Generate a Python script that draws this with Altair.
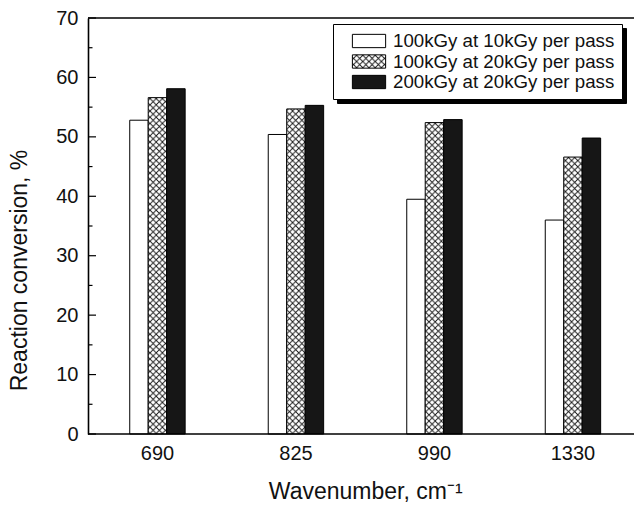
import altair as alt
import pandas as pd
import jinja2

# Wavenumber bands and the three irradiation conditions
wavenumbers = ["690", "825", "990", "1330"]
series = [
    "100kGy at 10kGy per pass",
    "100kGy at 20kGy per pass",
    "200kGy at 20kGy per pass",
]

# Reaction conversion (%) per band for each condition
dose100_rate10 = [52.8, 50.4, 39.5, 36.0]
dose100_rate20 = [56.6, 54.7, 52.4, 46.6]
dose200_rate20 = [58.1, 55.3, 52.9, 49.8]

# y-axis tick positions (labelled majors, unlabelled minors)
y_major = [0, 10, 20, 30, 40, 50, 60, 70]
y_minor = [5, 15, 25, 35, 45, 55, 65]

rows = []
for name, vals in zip(series, [dose100_rate10, dose100_rate20, dose200_rate20]):
    for wn, v in zip(wavenumbers, vals):
        rows.append({"wavenumber": wn, "series": name, "conversion": v})
df = pd.DataFrame(rows)

FONT = "Liberation Sans"
INK = "#111111"
FRAME_W = 1.6

y_axis = alt.Axis(
    values=y_major,
    ticks=False,
    domain=True,
    domainColor="black",
    domainWidth=FRAME_W,
    grid=False,
    labelFontSize=20,
    labelPadding=10,
    title="Reaction conversion, %",
    titleFontSize=23,
    titleFontWeight="normal",
    titleX=-57,
    titleY=252,
)
y_scale = alt.Scale(domain=[0, 70], nice=False, zero=True)

bars = alt.Chart(df).mark_bar(stroke="black", strokeWidth=1).encode(
    x=alt.X(
        "wavenumber:N",
        sort=wavenumbers,
        scale=alt.Scale(range=[0, 554.4], paddingInner=0.6, paddingOuter=0.3014),
        axis=alt.Axis(
            title="Wavenumber, cm\u207b\u00b9",
            labelAngle=0,
            ticks=False,
            domain=False,
            labelFontSize=20,
            labelPadding=9,
            titleFontSize=23,
            titleFontWeight="normal",
            titlePadding=17,
        ),
    ),
    xOffset=alt.XOffset(
        "series:N", sort=series, scale=alt.Scale(paddingInner=0, paddingOuter=0)
    ),
    y=alt.Y("conversion:Q", scale=y_scale, axis=y_axis),
    fill=alt.Fill(
        "series:N",
        sort=series,
        scale=alt.Scale(domain=series, range=["white", "url(#xhatch)", "#161616"]),
        legend=alt.Legend(
            title=None,
            orient="none",
            legendX=245,
            legendY=6,
            fillColor="white",
            strokeColor="black",
            padding=7,
            labelFont=FONT,
            labelFontSize=18.7,
            labelColor=INK,
            labelOffset=14,
            labelLimit=400,
            symbolType="M-1.75,-0.7H1.75V0.7H-1.75Z",
            symbolSize=361,
            symbolStrokeColor="black",
            symbolStrokeWidth=1,
            symbolOffset=19,
            rowPadding=0.5,
        ),
    ),
)

# Inward-pointing tick marks on the left frame
major_ticks = alt.Chart(pd.DataFrame({"conversion": y_major})).mark_rule(
    color="black", strokeWidth=1.2
).encode(
    y=alt.Y("conversion:Q", scale=y_scale, axis=y_axis),
    x=alt.value(0),
    x2=alt.value(8),
)
minor_ticks = alt.Chart(pd.DataFrame({"conversion": y_minor})).mark_rule(
    color="black", strokeWidth=1.2
).encode(
    y=alt.Y("conversion:Q", scale=y_scale, axis=y_axis),
    x=alt.value(0),
    x2=alt.value(4.5),
)

# Top and bottom frame lines across the full plot width
frame_top = alt.Chart().mark_rule(color="black", strokeWidth=FRAME_W).encode(
    y=alt.datum(70, scale=y_scale)
)
frame_bottom = alt.Chart().mark_rule(color="black", strokeWidth=FRAME_W).encode(
    y=alt.datum(0, scale=y_scale)
)

chart = (
    alt.layer(bars, major_ticks, minor_ticks, frame_top, frame_bottom)
    .properties(
        width=546,
        height=416,
        autosize=alt.AutoSizeParams(type="none"),
        padding={"left": 88, "top": 18, "right": 0, "bottom": 72},
        background="white",
    )
    .configure_view(stroke=None)
    .configure_axis(
        labelFont=FONT,
        titleFont=FONT,
        labelColor=INK,
        titleColor=INK,
    )
)

# Page template: standard embed plus an SVG cross-hatch pattern for the
# middle series and a drop shadow on the legend box.
page = jinja2.Template(
    """<!DOCTYPE html>
<html>
<head>
  <style>
    body { margin: 0; }
    #{{ output_div }}.vega-embed { width: 100%; display: flex; }
    #{{ output_div }} .role-legend > g > path.background {
      filter: drop-shadow(4px 4px 0 #000);
    }
  </style>
  <script type="text/javascript" src="{{ base_url }}/vega@{{ vega_version }}"></script>
  <script type="text/javascript" src="{{ base_url }}/vega-lite@{{ vegalite_version }}"></script>
  <script type="text/javascript" src="{{ base_url }}/vega-embed@{{ vegaembed_version }}"></script>
</head>
<body>
  <svg width="0" height="0" style="position:absolute">
    <defs>
      <pattern id="xhatch" patternUnits="userSpaceOnUse" width="6.2" height="6.2">
        <rect width="6.2" height="6.2" fill="white"/>
        <path d="M-1,-1L7.2,7.2M7.2,-1L-1,7.2" stroke="#111" stroke-width="0.9"/>
      </pattern>
    </defs>
  </svg>
  <div id="{{ output_div }}"></div>
  <script type="text/javascript">
    var spec = {{ spec }};
    var embedOpt = {{ embed_options }};
    vegaEmbed("#{{ output_div }}", spec, embedOpt).catch(console.error);
  </script>
</body>
</html>
"""
)

chart.save(
    "out.html",
    embed_options={"renderer": "svg", "actions": False},
    template=page,
)
